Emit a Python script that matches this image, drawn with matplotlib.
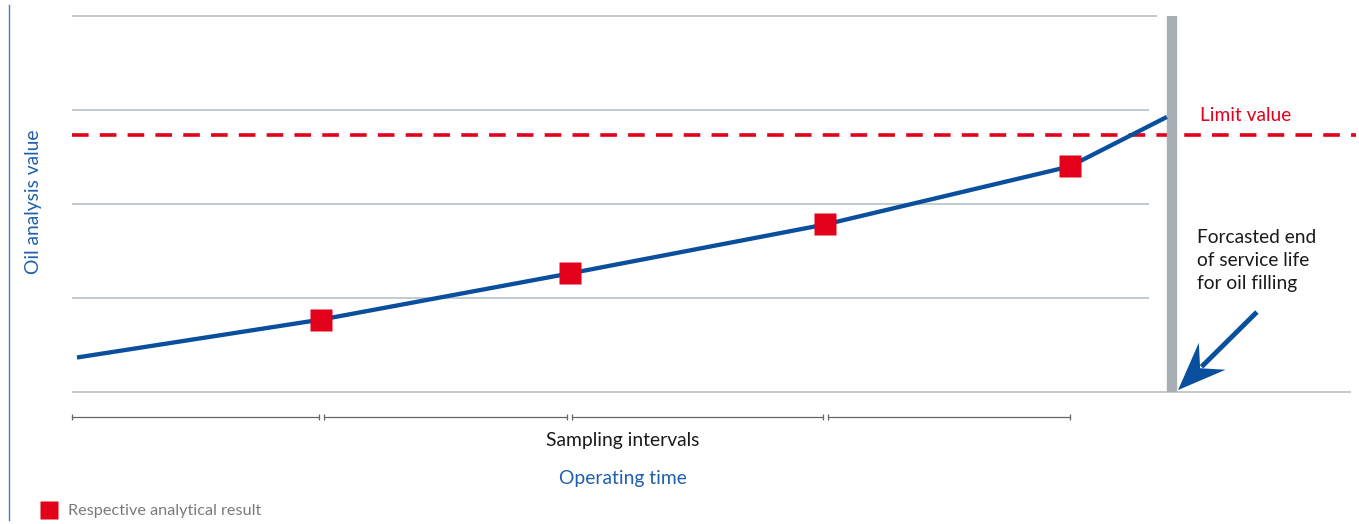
import matplotlib
matplotlib.use("Agg")
import matplotlib.pyplot as plt
import numpy as np
from matplotlib.patches import Polygon
from matplotlib.transforms import IdentityTransform

# ---- data ----
sample_times = [1.0, 1.995, 3.02, 4.0]          # sampling points (interval units)
sample_values = [0.771, 1.261, 1.782, 2.399]    # respective analytical results
trend_start = (0.02, 0.367)                     # trend line start
trend_end = (4.39, 2.926)                       # trend line end (forecast)
limit_value = 2.734
end_of_life = 4.41
grid_levels = [0, 1, 2, 3, 4]
interval_edges = [0.0, 1.0, 1.995, 3.02, 4.0]

BLUE = "#0a4f9e"
RED = "#e2001a"
GRID = "#b9c1c7"
BAR = "#a8b0b6"
FONT = ["Lato", "DejaVu Sans"]
plt.rcParams["font.family"] = FONT

fig = plt.figure(figsize=(13.59, 5.24), dpi=100)
ax = fig.add_axes([0, 0, 1, 1])
ax.set_xlim(-72 / 249.4, (1359 - 72) / 249.4)
ax.set_ylim(-132 / 94, 392 / 94)
ax.axis("off")

# grid lines
for g in grid_levels:
    if g == 0:
        xe = 5.13
    elif g == 4:
        xe = 4.35
    else:
        xe = 4.32
    ax.plot([0, xe], [g, g], color=GRID, lw=1.2, zorder=1, solid_capstyle="butt")

# limit line
ax.plot([0, 5.15], [limit_value, limit_value], color=RED, lw=2.6,
        dashes=(4.6, 3.1), zorder=2)

# end of service life bar
ax.plot([end_of_life, end_of_life], [0, 4], color=BAR, lw=7.5, zorder=3,
        solid_capstyle="butt")

# trend line
xs = [trend_start[0]] + sample_times + [trend_end[0]]
ys = [trend_start[1]] + sample_values + [trend_end[1]]
ax.plot(xs, ys, color=BLUE, lw=3.1, zorder=4, solid_capstyle="butt")

# sample markers
ax.plot(sample_times, sample_values, ls="none", marker="s", ms=16.5,
        mfc=RED, mec="none", zorder=5)

# sampling interval bar
gap = 0.01
for a, b in zip(interval_edges[:-1], interval_edges[1:]):
    a2 = a + (gap if a > 0 else 0)
    b2 = b - (gap if b < 4 else 0)
    ax.plot([a2, b2], [-0.266, -0.266], color="#666666", lw=0.9, zorder=2)
    ax.plot([a2, b2], [-0.266, -0.266], ls="none", marker="|", ms=5,
            mew=0.9, color="#666666")

# texts
ax.text(2.21, -0.52, "Sampling intervals", ha="center", va="center",
        fontsize=13.9, color="#1a1a1a")
ax.text(2.21, -0.925, "Operating time", ha="center", va="center",
        fontsize=13.9, color="#1f5fad")
ax.text(-0.155, 2.02, "Oil analysis value", ha="center", va="center",
        rotation=90, fontsize=13.9, color="#1f5fad")
ax.text(4.523, 2.94, "Limit value", ha="left", va="center",
        fontsize=13.8, color=RED)
ax.text(4.511, 1.40, "Forcasted end\nof service life\nfor oil filling",
        ha="left", va="center", fontsize=13.8, color="#1a1a1a", linespacing=1.43)

# arrow (notched head, drawn in pixel space around the tip)
tip = np.array(ax.transData.transform((4.435, 0.021)))
tail = np.array(ax.transData.transform((4.751, 0.851)))
u = (tail - tip) / np.linalg.norm(tail - tip)
n = np.array([-u[1], u[0]])
head_len, notch_len, half_w = 48.0, 31.0, 19.0
wing1 = tip + u * head_len + n * half_w
wing2 = tip + u * head_len - n * half_w
notch = tip + u * notch_len
ax.add_patch(Polygon([tip, wing1, notch, wing2], closed=True, facecolor=BLUE,
                     edgecolor="none", transform=IdentityTransform(), zorder=6))
shaft_end = ax.transData.inverted().transform(tip + u * (notch_len + 2))
ax.plot([4.751, shaft_end[0]], [0.851, shaft_end[1]], color=BLUE, lw=3.5,
        solid_capstyle="butt", zorder=6)

# left axis line
fig.add_artist(plt.Line2D([9 / 1359, 9 / 1359], [4 / 524, 519 / 524],
                          color="#4a7fc0", lw=1.0))

# legend
ax.plot([-0.094], [-1.255], ls="none", marker="s", ms=12.5, mfc=RED, mec="none")
ax.text(-0.016, -1.262, "Respective analytical result", ha="left", va="center",
        fontsize=11.7, color="#7a7a7a")

fig.savefig("out.png", dpi=100)
